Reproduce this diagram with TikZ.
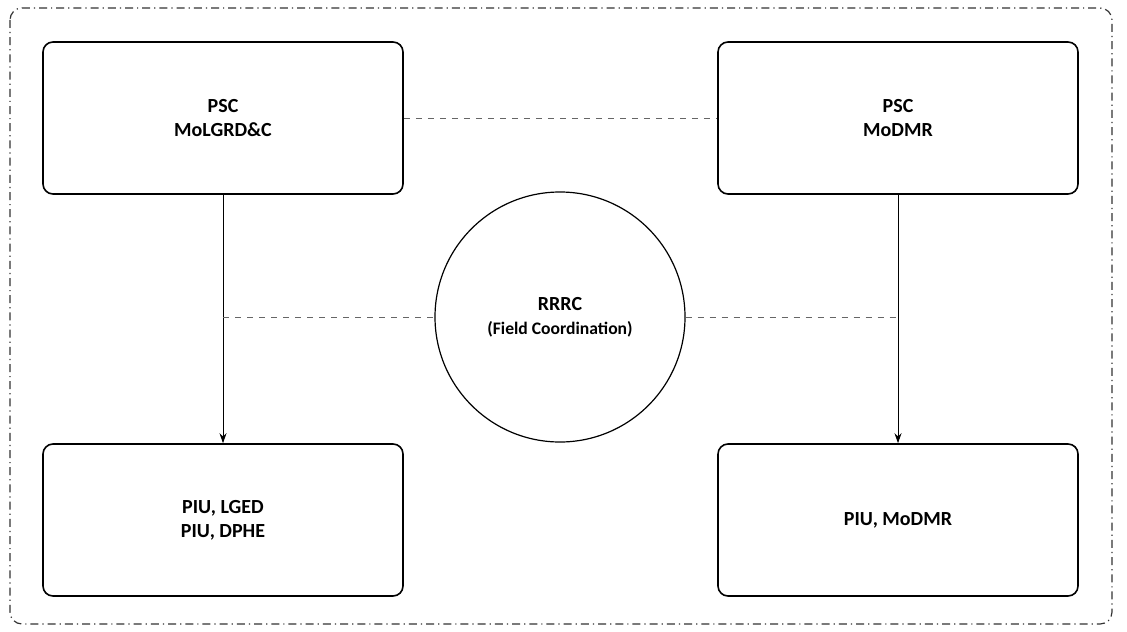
\documentclass[tikz,border=0pt]{standalone}
\usepackage{fontspec}
\setmainfont{Carlito}
\usepackage{tikz}
\usetikzlibrary{calc,arrows.meta}

\begin{document}
\begin{tikzpicture}[x=0.5pt,y=-0.5pt,
    unit/.style={draw,rounded corners=5pt,line width=0.8pt,minimum width=180pt,minimum height=76pt,align=center,font=\bfseries},
    link/.style={dashed,line width=0.4pt,gray!80!black},
    down/.style={line width=0.5pt,-{Stealth[length=5pt,width=3.5pt]}}]
    \useasboundingbox (0,0) rectangle (1127,631);
    \draw[dash pattern=on 4pt off 2pt on 0.6pt off 2pt,line width=0.6pt,gray!40!black,rounded corners=6pt] (10,8) rectangle (1112,624);
    \node (PSCL) at (223,118) [unit] {PSC\\MoLGRD\&C};
    \node (PSCD) at (898,118) [unit] {PSC\\MoDMR};
    \node (PIUL) at (223,520) [unit] {PIU, LGED\\PIU, DPHE};
    \node (PIUD) at (898,520) [unit] {PIU, MoDMR};
    \node (RRRC) at (560,317) [draw,circle,line width=0.6pt,minimum size=125pt,align=center,font=\bfseries] {RRRC\\{\fontsize{8.8}{11}\selectfont (Field Coordination)}};
    \coordinate (L) at (223,317);
    \coordinate (R) at (898,317);
   \draw[down]
    (PSCL) -- (PIUL);
   \draw[down]
    (PSCD) -- (PIUD);
    \draw[link]
    (PSCL) -- (PSCD)
    (L) -- (RRRC)
    (RRRC) -- (R);
  \end{tikzpicture}
\end{document}
